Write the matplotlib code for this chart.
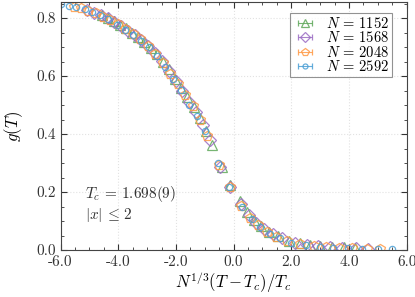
import numpy as np
import matplotlib
matplotlib.use("Agg")
import matplotlib.pyplot as plt
from matplotlib.ticker import MultipleLocator, FormatStrFormatter

plt.rcParams['font.family'] = 'serif'
plt.rcParams['font.serif'] = ['cmr10']
plt.rcParams['mathtext.fontset'] = 'cm'
plt.rcParams['axes.unicode_minus'] = False
plt.rcParams['axes.formatter.use_mathtext'] = True

# scaled temperature x = N^(1/3)(T-Tc)/Tc and g(T)
x_1152 = [-4.58, -4.36, -4.16, -3.94, -3.74, -3.53, -3.31, -3.10, -2.88, -2.67, -2.46, -2.24,
          -2.03, -1.82, -1.60, -1.39, -1.18, -0.96, -0.75, -0.42, -0.11, 0.21, 0.47, 0.70,
          0.95, 1.22, 1.53, 1.91, 2.29, 2.63, 3.01, 3.40, 3.82, 4.20]
g_1152 = [0.810, 0.800, 0.789, 0.777, 0.765, 0.750, 0.734, 0.717, 0.697, 0.675, 0.650, 0.623,
          0.590, 0.560, 0.527, 0.492, 0.455, 0.412, 0.362, 0.285, 0.225, 0.168, 0.132, 0.104,
          0.082, 0.063, 0.048, 0.033, 0.024, 0.018, 0.014, 0.011, 0.009, 0.008]

x_1568 = [-5.08, -4.84, -4.61, -4.37, -4.15, -3.91, -3.67, -3.43, -3.20, -2.96, -2.72, -2.49,
          -2.25, -2.01, -1.78, -1.54, -1.30, -1.07, -0.83, -0.47, -0.13, 0.24, 0.52, 0.78,
          1.06, 1.35, 1.69, 2.12, 2.54, 2.92, 3.34, 3.76, 4.23, 4.65]
g_1568 = [0.828, 0.819, 0.810, 0.800, 0.786, 0.772, 0.756, 0.740, 0.724, 0.705, 0.680, 0.652,
          0.618, 0.582, 0.550, 0.512, 0.476, 0.432, 0.380, 0.288, 0.218, 0.160, 0.122, 0.095,
          0.073, 0.055, 0.040, 0.026, 0.018, 0.013, 0.010, 0.008, 0.006, 0.005]

x_2048 = [-5.54, -5.29, -5.04, -4.78, -4.53, -4.27, -4.01, -3.75, -3.49, -3.23, -2.98, -2.72,
          -2.46, -2.20, -1.94, -1.68, -1.42, -1.16, -0.91, -0.51, -0.14, 0.26, 0.57, 0.85,
          1.16, 1.48, 1.85, 2.31, 2.77, 3.19, 3.65, 4.11, 4.62, 5.08]
g_2048 = [0.838, 0.833, 0.825, 0.816, 0.805, 0.793, 0.779, 0.762, 0.744, 0.726, 0.704, 0.677,
          0.645, 0.608, 0.571, 0.535, 0.495, 0.448, 0.395, 0.292, 0.218, 0.153, 0.112, 0.087,
          0.063, 0.046, 0.032, 0.020, 0.014, 0.010, 0.008, 0.006, 0.005, 0.004]

x_2592 = [-6.00, -5.72, -5.45, -5.17, -4.90, -4.62, -4.34, -4.06, -3.78, -3.50, -3.22, -2.94,
          -2.66, -2.38, -2.10, -1.82, -1.54, -1.26, -0.98, -0.55, -0.15, 0.28, 0.62, 0.92,
          1.25, 1.60, 2.00, 2.50, 3.00, 3.45, 3.95, 4.45, 5.00, 5.50]
g_2592 = [0.848, 0.842, 0.837, 0.830, 0.821, 0.811, 0.798, 0.776, 0.760, 0.742, 0.722, 0.700,
          0.668, 0.632, 0.590, 0.552, 0.500, 0.462, 0.412, 0.300, 0.218, 0.150, 0.106, 0.080,
          0.056, 0.040, 0.026, 0.017, 0.011, 0.008, 0.006, 0.005, 0.004, 0.003]

sizes = ['1152', '1568', '2048', '2592']
xs = [x_1152, x_1568, x_2048, x_2592]
gs = [g_1152, g_1568, g_2048, g_2592]
colors = ['#5fa85a', '#9b6cc4', '#ff9a45', '#4b9fd5']
markers = ['^', 'D', 'p', 'o']
msizes = [7, 6, 7.5, 4.5]

fig, ax = plt.subplots(figsize=(4.15, 2.97), dpi=100)
fig.subplots_adjust(left=0.146, right=0.980, bottom=0.158, top=0.993)

handles = []
for n, x, g, c, m, ms in zip(sizes, xs, gs, colors, markers, msizes):
    ax.plot(x, g, m, color=c, mfc='none', mec=c, ms=ms, mew=0.9, alpha=0.85)
    # legend proxy: errorbar style handle
    h = ax.errorbar([np.nan], [np.nan], xerr=[1.0], fmt=m, color=c, mfc='none', mec=c,
                    ms=ms * 0.8, mew=0.9, elinewidth=0.8, capsize=2.5, alpha=0.85,
                    label=r'$N\, =\, %s$' % n)
    handles.append(h)

ax.text(-5.15, 0.178, r'$T_c\, =\, 1.698(9)$', fontsize=11, color='#333333')
ax.text(-5.15, 0.108, r'$|x|\,\leq\, 2$', fontsize=11, color='#333333')

ax.set_xlim(-6, 6)
ax.set_ylim(0, 0.855)
ax.xaxis.set_major_locator(MultipleLocator(2))
ax.xaxis.set_minor_locator(MultipleLocator(0.5))
ax.yaxis.set_major_locator(MultipleLocator(0.2))
ax.yaxis.set_minor_locator(MultipleLocator(0.05))
ax.xaxis.set_major_formatter(FormatStrFormatter('%.1f'))
ax.yaxis.set_major_formatter(FormatStrFormatter('%.1f'))
ax.tick_params(which='both', direction='in', top=True, right=True, labelsize=11, colors='#333333')
ax.tick_params(which='major', length=4)
ax.tick_params(which='minor', length=2)
ax.grid(True, which='major', color='#e2e2e2', linestyle=':', linewidth=0.8)
for sp in ax.spines.values():
    sp.set_color('#444444')

ax.set_xlabel(r'$N^{1/3}(T - T_c)/T_c$', fontsize=12, labelpad=1)
ax.set_ylabel(r'$g(T)$', fontsize=12, labelpad=8)

leg = ax.legend(handles=handles, loc='upper right', fontsize=10.5, fancybox=False,
                edgecolor='#777777', handlelength=1.7, borderpad=0.2, labelspacing=-0.05,
                handletextpad=0.6, borderaxespad=0.0, bbox_to_anchor=(0.958, 0.955))
leg.get_frame().set_linewidth(0.8)

plt.savefig('out.png', dpi=100)
